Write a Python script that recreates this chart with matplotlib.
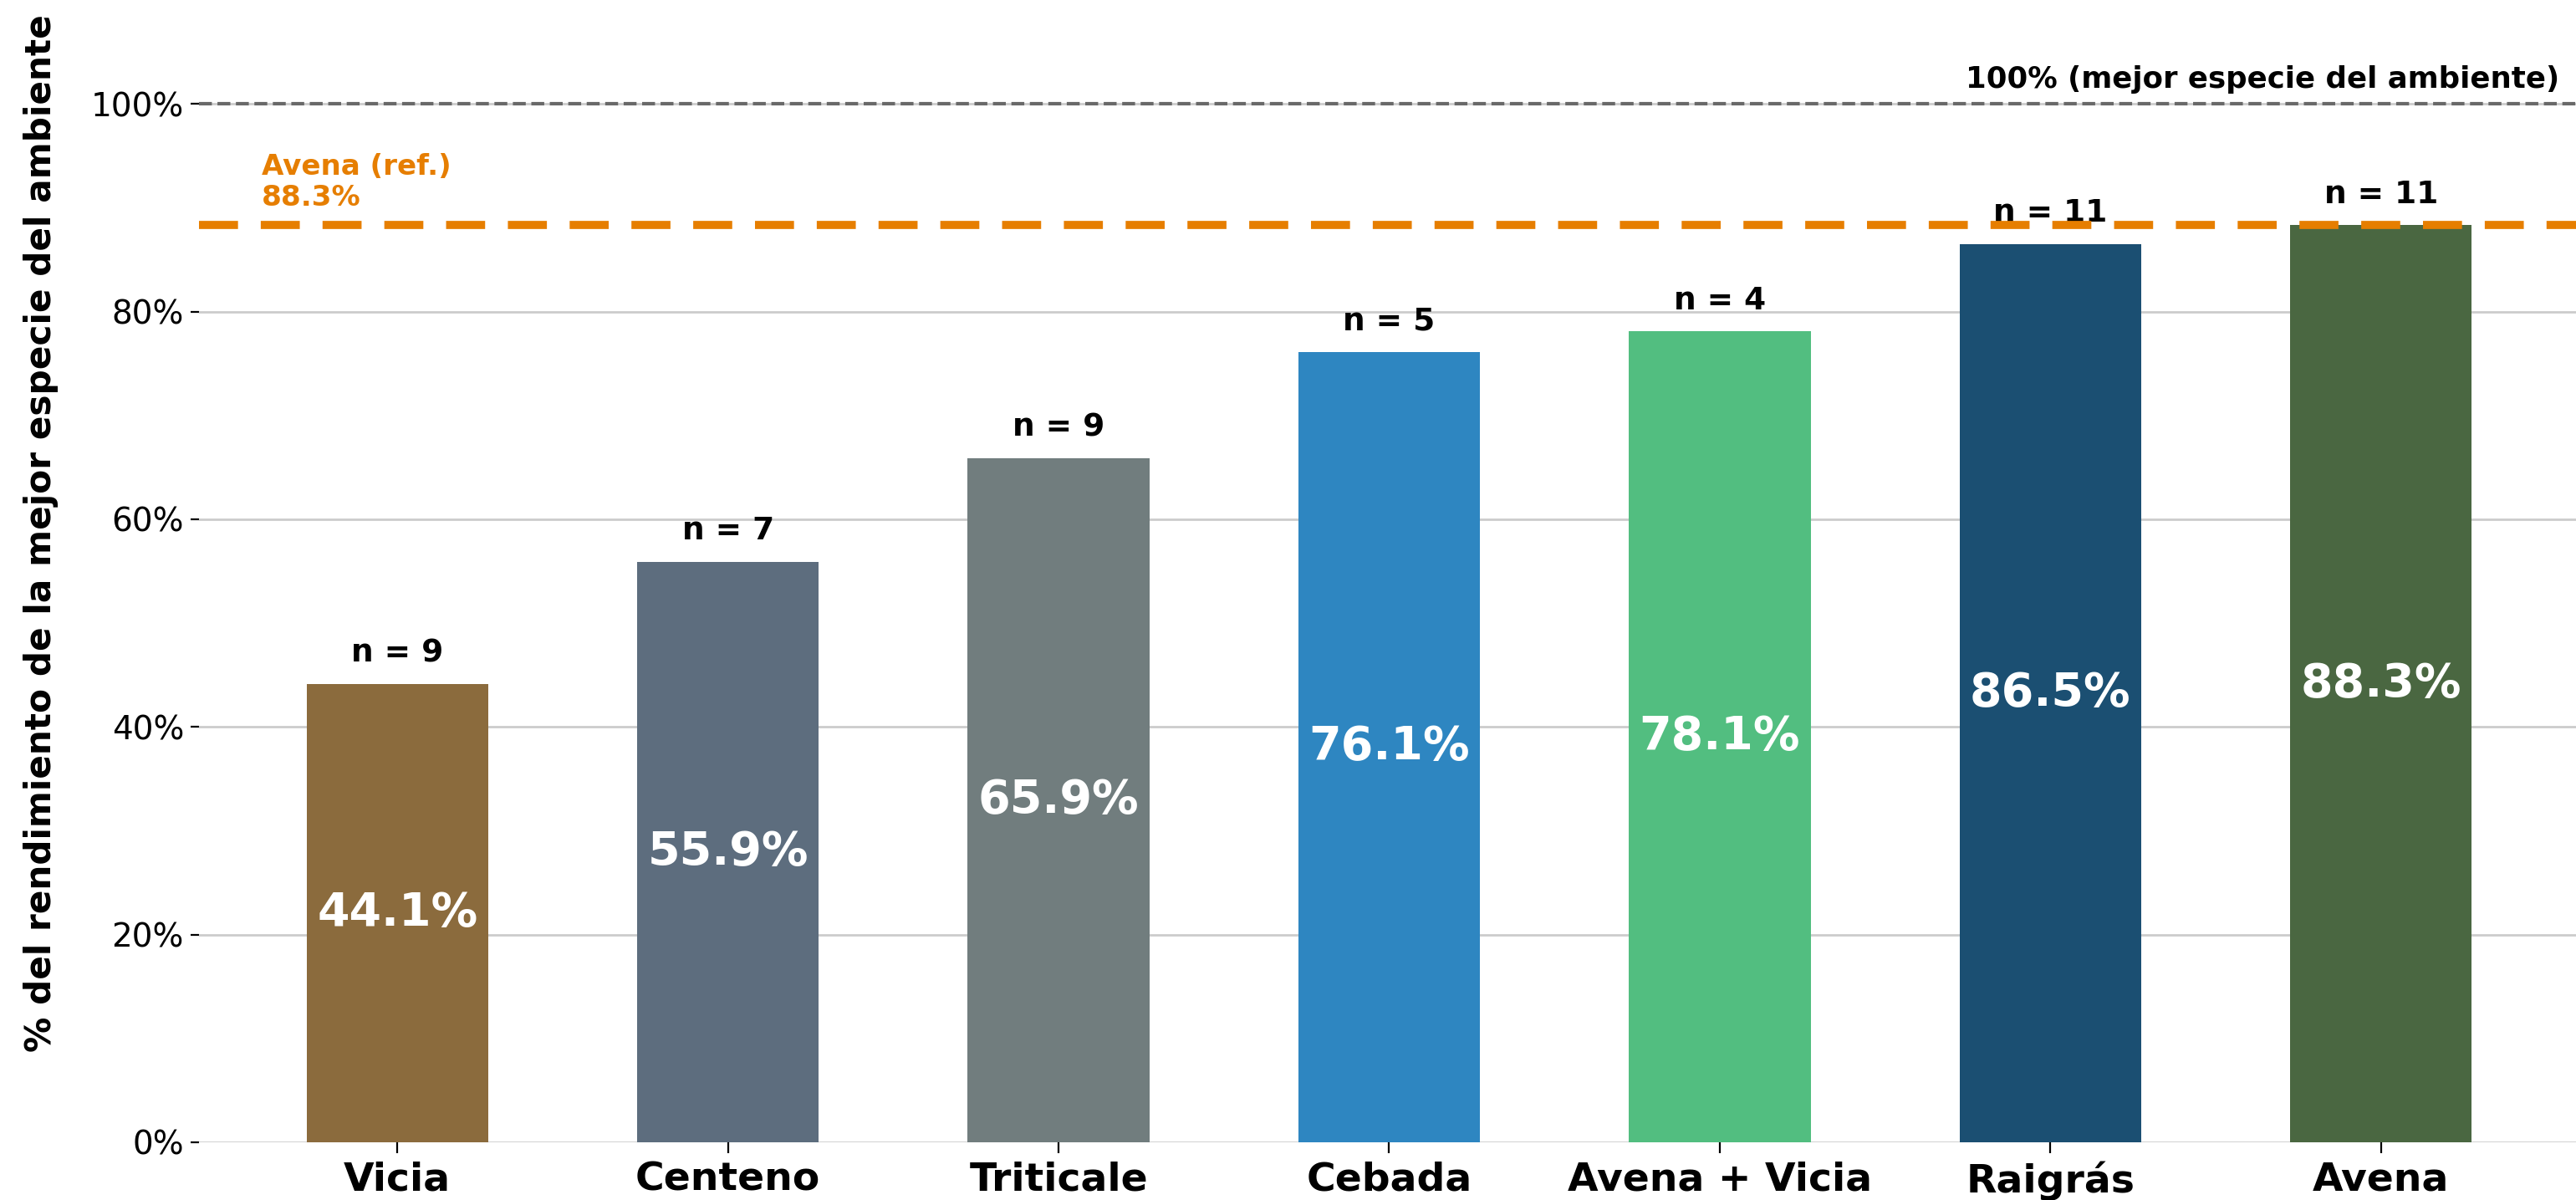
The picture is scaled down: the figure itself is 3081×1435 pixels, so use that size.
import matplotlib
matplotlib.use("Agg")
import matplotlib.pyplot as plt
import numpy as np

# datos
especies = ["Vicia", "Centeno", "Triticale", "Cebada", "Avena + Vicia", "Raigrás", "Avena"]
rend_rel = [44.1, 55.9, 65.9, 76.1, 78.1, 86.5, 88.3]
n_amb = [9, 7, 9, 5, 4, 11, 11]
colores = ["#8B6B3D", "#5D6D7E", "#717D7E", "#2E86C1", "#52BE80", "#1B4F72", "#4A6741"]
ref_avena = 88.3
y_ticks = [0, 20, 40, 60, 80, 100]

plt.rcParams["font.family"] = "DejaVu Sans"

fig = plt.figure(figsize=(15.405, 7.175), dpi=200)
ax = fig.add_axes([0.07725, 0.0481, 0.92275, 0.9519])

x = np.arange(len(especies))
bars = ax.bar(x, rend_rel, width=0.55, color=colores, zorder=2)

# etiquetas dentro y encima de las barras
for xi, v, n in zip(x, rend_rel, n_amb):
    ax.text(xi, v / 2, f"{v:.1f}%", ha="center", va="center",
            color="white", fontsize=20, fontweight="bold", zorder=3)
    ax.text(xi, v + 1.5, f"n = {n}", ha="center", va="bottom",
            color="black", fontsize=13.5, fontweight="bold", zorder=3)

# lineas de referencia
ax.axhline(100, color="dimgray", linestyle="--", linewidth=1.5, zorder=1)
ax.axhline(ref_avena, color="#E67E00", linewidth=3.5, dashes=(4.8, 2.8), zorder=4)

ax.text(6.54, 101, "100% (mejor especie del ambiente)", ha="right", va="bottom",
        fontsize=12.8, fontweight="bold", color="black")
ax.text(-0.41, 89.6, f"Avena (ref.)\n{ref_avena:.1f}%", ha="left", va="bottom",
        fontsize=12.3, fontweight="bold", color="#E67E00", linespacing=1.15)

ax.set_xlim(-0.6, 6.59)
ax.set_ylim(0, 110)
ax.set_xticks(x)
ax.set_xticklabels(especies, fontsize=17, fontweight="bold")
ax.set_yticks(y_ticks)
ax.set_yticklabels([f"{t}%" for t in y_ticks], fontsize=14)
ax.tick_params(axis="x", length=4.5)
ax.tick_params(axis="y", pad=3)

ax.yaxis.grid(True, color="#CCCCCC", linewidth=1.0, zorder=0)
ax.set_axisbelow(True)
for s in ax.spines.values():
    s.set_visible(False)

ax.set_ylabel("% del rendimiento de la mejor especie del ambiente",
              fontsize=15.2, fontweight="bold")
ax.yaxis.set_label_coords(-0.059, 0.533)

fig.savefig("out.png", dpi=200, facecolor="white")
